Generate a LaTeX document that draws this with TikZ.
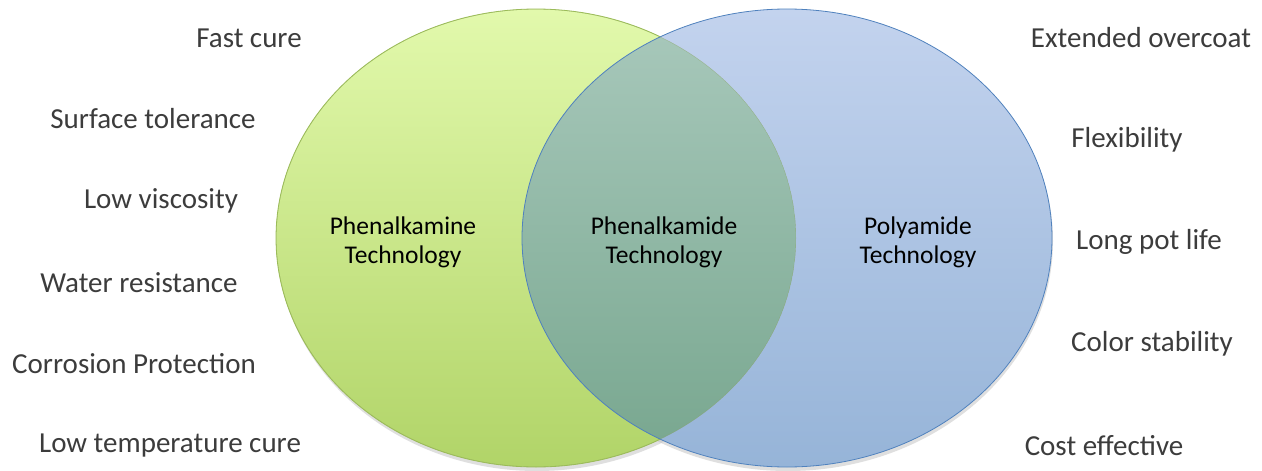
\documentclass[tikz,border=0pt]{standalone}
\usepackage{fontspec}
\setmainfont{Carlito}
\definecolor{txtgray}{HTML}{3C3C3C}
\definecolor{gtop}{HTML}{E2F9AC}
\definecolor{gbot}{HTML}{B1D468}
\definecolor{gline}{HTML}{9BBB59}
\definecolor{btop}{HTML}{C3D3EE}
\definecolor{bbot}{HTML}{96B4D8}
\definecolor{bline}{HTML}{4F81BD}
\definecolor{otop}{HTML}{A9C9BC}
\definecolor{obot}{HTML}{77A68E}
\tikzset{
  sidelabel/.style={font=\fontsize{29}{34}\selectfont, text=txtgray, inner sep=0pt},
  setlabel/.style={font=\fontsize{25.5}{29}\selectfont, text=black, align=center, inner sep=0pt},
}
\begin{document}
\begin{tikzpicture}[x=1pt,y=-1pt]
\useasboundingbox (0,0) rectangle (1262,471);
% shadows
\fill[black!25, opacity=0.5] (537,241) ellipse [x radius=260, y radius=230];
\fill[black!25, opacity=0.5] (788,241) ellipse [x radius=265, y radius=230];
\fill[white] (536,238) ellipse [x radius=260, y radius=229];
\fill[white] (787,238) ellipse [x radius=265, y radius=229];
% green
\shade[top color=gtop, bottom color=gbot] (536,238) ellipse [x radius=260, y radius=229];
% blue
\shade[top color=btop, bottom color=bbot] (787,238) ellipse [x radius=265, y radius=229];
% overlap
\begin{scope}
  \clip (536,238) ellipse [x radius=260, y radius=229];
  \shade[top color=otop, bottom color=obot] (787,238) ellipse [x radius=265, y radius=229];
  \draw[gline!60!gray, opacity=0.5, line width=0.8pt] (536,238) ellipse [x radius=260, y radius=229];
\end{scope}
% outlines
\begin{scope}[even odd rule]
  \clip (0,0) rectangle (1262,471) (787,238) ellipse [x radius=265, y radius=229];
  \draw[gline, line width=0.8pt] (536,238) ellipse [x radius=260, y radius=229];
\end{scope}
\draw[bline, line width=0.8pt] (787,238) ellipse [x radius=265, y radius=229];
% set labels
\node[setlabel] (pa) at (403,242) {Phenalkamine\\Technology};
\node[setlabel] (pm) at (664,242) {Phenalkamide\\Technology};
\node[setlabel] (py) at (918,242) {Polyamide\\Technology};
% left labels
\node[sidelabel] (l1) at (249,38) {Fast cure};
\node[sidelabel] (l2) at (153,119) {Surface tolerance};
\node[sidelabel] (l3) at (161,201) {Low viscosity};
\node[sidelabel] (l4) at (139,283) {Water resistance};
\node[sidelabel] (l5) at (134,364) {Corrosion Protection};
\node[sidelabel] (l6) at (170,446) {Low temperature cure};
% right labels
\node[sidelabel] (r1) at (1141,38) {Extended overcoat};
\node[sidelabel] (r2) at (1127,140) {Flexibility};
\node[sidelabel] (r3) at (1149,242) {Long pot life};
\node[sidelabel] (r4) at (1152,344) {Color stability};
\node[sidelabel] (r5) at (1104,446) {Cost effective};
\end{tikzpicture}
\end{document}
